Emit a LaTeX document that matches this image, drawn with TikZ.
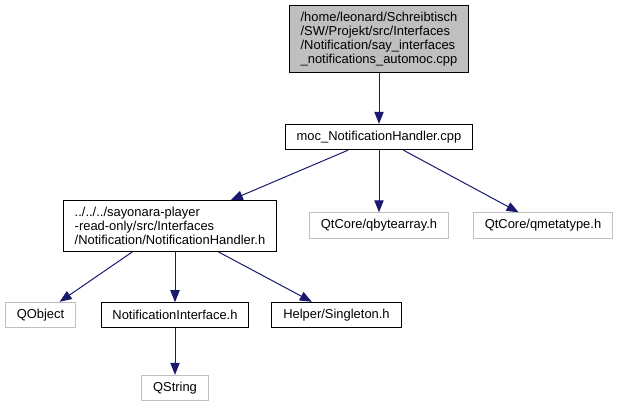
\documentclass[tikz,border=0pt]{standalone}
\usepackage{fontspec}
\setmainfont{Liberation Sans}
\usetikzlibrary{arrows.meta}
\definecolor{edgeblue}{HTML}{191970}
\definecolor{nodegray}{HTML}{BFBFBF}
\begin{document}
\begin{tikzpicture}[x=0.75pt,y=-0.75pt,
  file/.style={draw=black,line width=0.75pt,font=\fontsize{9.7}{10.5}\selectfont,
    align=left,inner xsep=8.5pt,inner ysep=5pt,minimum height=18.5pt},
  extfile/.style={file,draw=nodegray},
  dep/.style={-{Triangle[length=9pt,width=7pt]},line width=0.75pt,draw=edgeblue}]
\useasboundingbox (0,0) rectangle (619,409);
\node[file,fill=nodegray] (automoc) at (379,39) {/home/leonard/Schreibtisch\\/SW/Projekt/src/Interfaces\\/Notification/say\_interfaces\\\_notifications\_automoc.cpp};
\node[file] (moc) at (379,137) {moc\_NotificationHandler.cpp};
\node[file] (handler) at (170,226) {../../../sayonara-player\\-read-only/src/Interfaces\\/Notification/NotificationHandler.h};
\node[extfile] (qbytearray) at (379,225.5) {QtCore/qbytearray.h};
\node[extfile] (qmetatype) at (543,225.5) {QtCore/qmetatype.h};
\node[extfile] (qobject) at (40.5,315) {QObject};
\node[file] (iface) at (175,315) {NotificationInterface.h};
\node[file] (singleton) at (336.5,315) {Helper/Singleton.h};
\node[extfile] (qstring) at (175,388) {QString};
\draw[dep] (automoc) -- (moc);
\draw[dep] (moc) -- (handler);
\draw[dep] (moc) -- (qbytearray);
\draw[dep] (moc) -- (qmetatype);
\draw[dep] (handler) -- (qobject);
\draw[dep] (handler.south -| iface) -- (iface);
\draw[dep] (handler) -- (singleton);
\draw[dep] (iface) -- (qstring);
\end{tikzpicture}
\end{document}
